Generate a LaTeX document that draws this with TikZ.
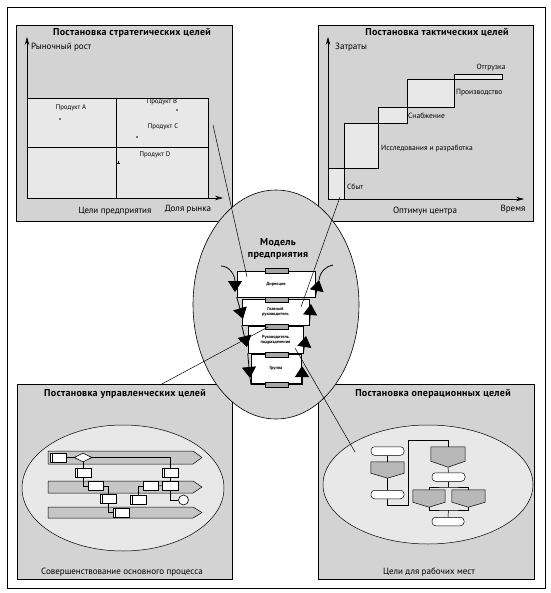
\documentclass[tikz,border=0pt]{standalone}
\usepackage{fontspec}
\setmainfont{PT Sans}
\usetikzlibrary{arrows.meta,calc,shapes.geometric}
\definecolor{pgray}{HTML}{D3D3D3}
\definecolor{plight}{HTML}{E8E8E8}
\definecolor{tabgray}{HTML}{A6A6A6}
\definecolor{lanegray}{HTML}{C6C6C6}
\definecolor{pentgray}{HTML}{B8B8B8}
\tikzset{
  frame/.style={draw=black, line width=0.8pt, fill=white, inner sep=0pt},
  panel/.style={draw=black, line width=0.8pt, fill=pgray, inner sep=0pt},
  ttl/.style={font=\bfseries\fontsize{10}{11}\selectfont\addfontfeatures{LetterSpace=3}, inner sep=0pt},
  lbl/.style={font=\fontsize{9}{10}\selectfont, inner sep=0pt},
  prod/.style={font=\fontsize{6.8}{7}\selectfont, inner sep=0pt},
  stp/.style={font=\fontsize{7.5}{8}\selectfont, inner sep=0pt, anchor=west},
  axis/.style={line width=0.6pt, -{Stealth[length=8pt,width=4.5pt]}},
  lightbox/.style={draw=black, line width=0.6pt, fill=plight},
  orgbox/.style={draw=black, line width=0.6pt, fill=white, inner sep=0pt, align=center,
     font=\bfseries\fontsize{4.4}{5.2}\selectfont},
  tabbox/.style={draw=black, line width=0.5pt, fill=tabgray, minimum width=23pt, minimum height=5pt, inner sep=0pt},
  bigtip/.style={line width=0.8pt, -{Triangle[width=14pt,length=11pt]}},
  loopline/.style={line width=0.8pt},
  pointer/.style={line width=0.5pt},
  inell/.style={draw=black, line width=0.5pt, fill=plight, ellipse, inner sep=0pt},
  fbox/.style={draw=black, line width=0.6pt, fill=white, minimum width=16pt, minimum height=9pt, inner sep=0pt},
  fline/.style={line width=0.5pt},
  lane/.style={draw=black, line width=0.5pt, fill=lanegray},
  term/.style={draw=black, line width=0.5pt, fill=white, rounded corners=3.5pt, minimum width=33pt, minimum height=8.5pt, inner sep=0pt},
  pentanchor/.style={minimum width=33pt, inner sep=0pt},
  pent/.style={draw=black, line width=0.5pt, fill=pentgray},
}
\begin{document}
\begin{tikzpicture}[x=1pt,y=-1pt]
\useasboundingbox (0,0) rectangle (550,593);
\fill[white] (0,0) rectangle (550,593);
\node[frame, minimum width=538pt, minimum height=581pt] (outer) at (276,297.5) {};

% ---------------- panels ----------------
\node[panel, minimum width=216pt, minimum height=196pt] (pTL) at (124,123) {};
\node[panel, minimum width=215pt, minimum height=196pt] (pTR) at (425.5,123) {};
\node[panel, minimum width=215pt, minimum height=195pt] (pBL) at (124.5,481.5) {};
\node[panel, minimum width=216pt, minimum height=195pt] (pBR) at (426,481.5) {};

% ---------------- top-left: strategic ----------------
\node[ttl] (tTL) at (132,33) {Постановка стратегических целей};
\draw[lightbox] (27,98) rectangle (208,198);
\draw[line width=0.6pt] (116,98) -- (116,198);
\draw[line width=0.6pt] (27,147) -- (208,147);
\coordinate (oTL) at (27,198);
\coordinate (yTL) at (27,37);
\coordinate (xTL) at (223,198);
\draw[axis] (oTL) -- (yTL);
\draw[axis] (oTL) -- (xTL);
\node[lbl, anchor=west] (ylTL) at (31,47) {Рыночный рост};
\node[prod] (prA) at (71,108) {Продукт A};
\node[prod] (prB) at (162,102) {Продукт B};
\node[prod] (prC) at (163,127) {Продукт C};
\node[prod] (prD) at (155,155) {Продукт D};
\fill (60,119) circle (0.8);
\fill (177,110) circle (0.8);
\fill (137,137) circle (0.8);
\draw[line width=0.4pt] (116.5,163) -- (119.5,163) (118,161.5) -- (118,164.5);
\node[lbl] (bTL) at (115,211) {Цели предприятия};
\node[lbl] (xlTL) at (188,209) {Доля рынка};

% ---------------- top-right: tactical ----------------
\node[ttl] (tTR) at (437,33) {Постановка тактических целей};
\draw[lightbox] (328,168) rectangle (344,199);
\draw[lightbox] (344,123) rectangle (378,168);
\draw[lightbox] (378,107) rectangle (407,123);
\draw[lightbox] (407,79) rectangle (454,107);
\draw[lightbox] (454,74) rectangle (502,79);
\coordinate (oTR) at (328,199);
\coordinate (yTR) at (328,37);
\coordinate (xTR) at (524,199);
\draw[axis] (oTR) -- (yTR);
\draw[axis] (oTR) -- (xTR);
\node[lbl, anchor=west] (ylTR) at (335,47) {Затраты};
\node[stp] (s1) at (347,187) {Сбыт};
\node[stp] (s2) at (381,149) {Исследования и разработка};
\node[stp] (s3) at (408,116) {Снабжение};
\node[stp] (s4) at (456,93) {Производство};
\node[stp, anchor=center] (s5) at (491,68) {Отгрузка};
\node[lbl] (bTR) at (425,211) {Оптимун центра};
\node[lbl] (xlTR) at (513,209) {Время};

% ---------------- bottom-left: management ----------------
\node[ttl] (tBL) at (125,394) {Постановка управленческих целей};
\node[inell, minimum width=202pt, minimum height=126pt] (eBL) at (123,488) {};
\draw[lane] (48,451) -- (193,451) -- (202,457.5) -- (193,464) -- (48,464) -- cycle;
\draw[lane] (48,481) -- (193,481) -- (202,487) -- (193,493) -- (48,493) -- cycle;
\draw[lane] (48,507) -- (193,507) -- (202,512.5) -- (193,518) -- (48,518) -- cycle;
\node[fbox] (fb1) at (58,457.5) {};
\node[draw=black, line width=0.6pt, fill=white, diamond, minimum width=18pt, minimum height=9pt, inner sep=0pt] (fdia) at (83,457.5) {};
\node[fbox] (fbja) at (83,472.5) {};
\node[fbox] (fbml) at (170,472.5) {};
\node[fbox, minimum width=15pt] (fb21) at (95.5,486) {};
\node[fbox] (fb31) at (108,499) {};
\node[fbox] (fblf) at (121,512.5) {};
\node[fbox] (fb32) at (138,499.5) {};
\node[fbox, minimum width=15pt] (fb22) at (150.5,486) {};
\node[fbox] (fb23) at (170,485.5) {};
\node[draw=black, line width=0.6pt, fill=white, circle, minimum size=10pt, inner sep=0pt] (fcirc) at (183.5,500) {};
\foreach \b in {fb1,fbja,fbml,fb31,fblf,fb32}{
  \draw[line width=0.4pt] ([xshift=2pt]\b.north west) -- ([xshift=2pt]\b.south west);
}
\draw[fline] (fb1.east) -- (fdia.west);
\draw[fline] (fdia.east) -- (fbml.north |- fdia.east) -- (fbml.north);
\draw[fline] (fdia.south) -- (fbja.north);
\draw[fline] (fbja.south) |- (fb21.west);
\draw[fline] (fb21.east) -| (fb31.north);
\draw[fline] (fb31.south) |- (fblf.west);
\draw[fline] (fb32.north) |- (fb22.west);
\draw[fline] (fb22.east) -- (fb23.west);
\draw[fline] (fbml.south) -- (fb23.north);
\draw[fline] (fb23.south) |- (fcirc.west);
\node[lbl] (bBL) at (122,572) {Совершенствование основного процесса};

% ---------------- bottom-right: operational ----------------
\node[ttl] (tBR) at (433,394) {Постановка операционных целей};
\node[inell, minimum width=210pt, minimum height=119pt] (eBR) at (428,484.5) {};
\node[term] (ft1) at (387.5,451) {};
\node[pentanchor, minimum height=16pt] (fp1) at (387.5,470) {};
\draw[pent] (fp1.north west) -- (fp1.north east) -- ([yshift=5pt]fp1.south east) -- (fp1.south) -- ([yshift=5pt]fp1.south west) -- cycle;
\node[term] (ft2) at (387.5,494.5) {};
\node[pentanchor, minimum width=34pt, minimum height=20pt] (fp2) at (448,457) {};
\draw[pent] (fp2.north west) -- (fp2.north east) -- ([yshift=6pt]fp2.south east) -- (fp2.south) -- ([yshift=6pt]fp2.south west) -- cycle;
\node[term] (ft3) at (448.5,477) {};
\node[pentanchor, minimum width=32pt, minimum height=17pt] (fp3) at (429,498.5) {};
\draw[pent] (fp3.north west) -- (fp3.north east) -- ([yshift=5pt]fp3.south east) -- (fp3.south) -- ([yshift=5pt]fp3.south west) -- cycle;
\node[pentanchor, minimum width=33pt, minimum height=17pt] (fp4) at (468.5,498.5) {};
\draw[pent] (fp4.north west) -- (fp4.north east) -- ([yshift=5pt]fp4.south east) -- (fp4.south) -- ([yshift=5pt]fp4.south west) -- cycle;
\node[term, minimum width=32pt] (ft4) at (448,521.5) {};
\coordinate (jtop) at (448.5,487);
\coordinate (jbot) at (448.5,510);
\draw[fline] (ft1.south) -- (fp1.north);
\draw[fline] (fp1.south) -- (ft2.north);
\draw[fline] (ft2.south) -- ++(0,6) -- (408,505) -- (408,440) -- (448,440) -- (fp2.north);
\draw[fline] (fp2.south) -- (ft3.north);
\draw[fline] (ft3.south) -- (jtop);
\draw[fline] (fp3.north) |- (jtop) -| (fp4.north);
\draw[fline] (fp3.south) |- (jbot) -| (fp4.south);
\draw[fline] (jbot) -- (ft4.north);
\node[lbl] (bBR) at (429,572) {Цели для рабочих мест};

% ---------------- center: enterprise model ----------------
\node[draw=black, line width=0.6pt, fill=pgray, ellipse, minimum width=166pt, minimum height=229pt, inner sep=0pt] (model) at (276,304.5) {};
\node[font=\bfseries\fontsize{10}{12}\selectfont\addfontfeatures{LetterSpace=3}, align=center, inner sep=0pt] (mttl) at (278,249) {Модель\\предприятия};

\node[orgbox, minimum width=78pt, minimum height=26pt] (d1) at (276,284) {Дирекция};
\node[orgbox, minimum width=67pt, minimum height=26pt] (d2) at (275.5,312) {Главный\\руководитель};
\node[orgbox, minimum width=55pt, minimum height=27pt] (d3) at (275.5,339.5) {Руководитель\\подразделения};
\node[orgbox, minimum width=50pt, minimum height=29pt] (d4) at (276,368.5) {Группа};
\node[tabbox] (t1) at (276.5,270.5) {};
\node[tabbox] (t2) at (276.5,299.5) {};
\node[tabbox] (t3) at (276.5,327) {};
\node[tabbox] (t4) at (276.5,355) {};
\node[tabbox] (t5) at (276.5,384.5) {};

% pointer lines from panels
\coordinate (a1) at (213,125); \coordinate (a1e) at (247,277);
\coordinate (a2) at (340,197); \coordinate (a2e) at (301,307);
\coordinate (a3) at (160,385); \coordinate (a3e) at (268,327);
\coordinate (a4) at (355,452); \coordinate (a4e) at (295,348);
\draw[pointer] (a1) -- (a1e);
\draw[pointer] (a2) -- (a2e);
\draw[pointer] (a3) -- (a3e);
\draw[pointer] (a4) -- (a4e);

% left side: downward loop
\coordinate (lc0) at (221,266);
\coordinate (lt1) at (235,292);
\coordinate (lt2) at (243,319);
\coordinate (lt3) at (247,347);
\coordinate (lt4) at (250,378);
\coordinate (lbot) at (251,384.5);
\draw[bigtip] (lc0) .. controls (230,266) and (235,276) .. (lt1);
\draw[bigtip] (d1.south west) -- (lt2);
\draw[bigtip] (d2.south west) -- (lt3);
\draw[bigtip] (d3.south west) -- (lt4);
\draw[loopline] (lt4) -- (lbot) -- (t5.west);
% right side: upward loop
\coordinate (rbot) at (302,384.5);
\coordinate (rt4) at (302,366);
\coordinate (rt3) at (306,336);
\coordinate (rt2) at (311,304);
\coordinate (rt1) at (319,280);
\coordinate (rc0) at (333,265);
\draw[loopline] (t5.east) -- (rbot);
\draw[bigtip] (rbot) -- (rt4);
\draw[bigtip] (d3.south east) -- (rt3);
\draw[bigtip] (d2.south east) -- (rt2);
\draw[bigtip] (d1.south east) -- (rt1);
\draw[loopline] (rt1) .. controls (320,272) and (326,266) .. (rc0);
\end{tikzpicture}
\end{document}
